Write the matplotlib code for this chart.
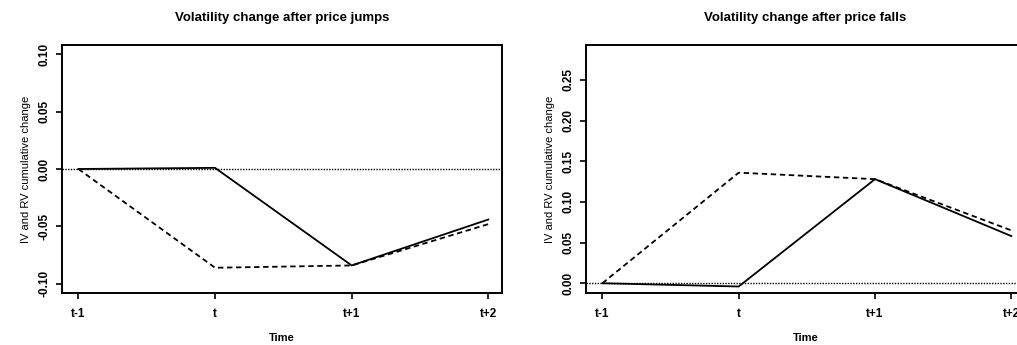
import matplotlib
matplotlib.use("Agg")
from matplotlib import pyplot as plt

plt.rcParams['font.family'] = ['Liberation Sans', 'DejaVu Sans']

periods = ["t-1", "t", "t+1", "t+2"]

# price jumps
jump_solid = [0.0, 0.001, -0.084, -0.044]
jump_dashed = [0.0, -0.086, -0.084, -0.048]
jump_yticks = [-0.10, -0.05, 0.00, 0.05, 0.10]

# price falls
fall_solid = [0.0, -0.004, 0.128, 0.058]
fall_dashed = [0.0, 0.136, 0.128, 0.065]
fall_yticks = [0.00, 0.05, 0.10, 0.15, 0.20, 0.25]

W, H = 1017, 345
fig = plt.figure(figsize=(W / 100, H / 100), dpi=100)


def px_axes(x0, y0, x1, y1):
    return fig.add_axes([x0 / W, 1 - y1 / H, (x1 - x0) / W, (y1 - y0) / H])


def draw(ax, solid, dashed, yticks, ylim, title):
    x = list(range(len(periods)))
    ax.axhline(0, color="black", lw=1.0, ls=(0, (1, 1)))
    ax.plot(x, solid, color="black", lw=1.3)
    ax.plot(x, dashed, color="black", lw=1.3, ls=(0, (3, 2)))
    ax.set_xlim(-0.12, 3.1)
    ax.set_ylim(*ylim)
    ax.set_xticks(x)
    ax.set_xticklabels(periods, fontsize=8.5, fontweight="bold")
    ax.set_yticks(yticks)
    ax.set_yticklabels(["%.2f" % v for v in yticks], fontsize=8.5,
                       fontweight="bold", rotation=90, va="center")
    ax.tick_params(direction="out", length=4, width=1.2)
    ax.tick_params(axis="x", pad=7)
    ax.tick_params(axis="y", pad=4)
    for s in ax.spines.values():
        s.set_linewidth(1.4)
    ax.set_xlabel("Time", fontsize=8, fontweight="bold", labelpad=9)
    ax.set_ylabel("IV and RV cumulative change", fontsize=8, labelpad=6)
    ax.set_title(title, fontsize=9.5, fontweight="bold", pad=17)


ax1 = px_axes(62, 45, 502, 293)
draw(ax1, jump_solid, jump_dashed, jump_yticks, (-0.108, 0.108),
     "Volatility change after price jumps")

ax2 = px_axes(586, 45, 1025, 293)
draw(ax2, fall_solid, fall_dashed, fall_yticks, (-0.012, 0.293),
     "Volatility change after price falls")

fig.savefig("out.png", dpi=100)
